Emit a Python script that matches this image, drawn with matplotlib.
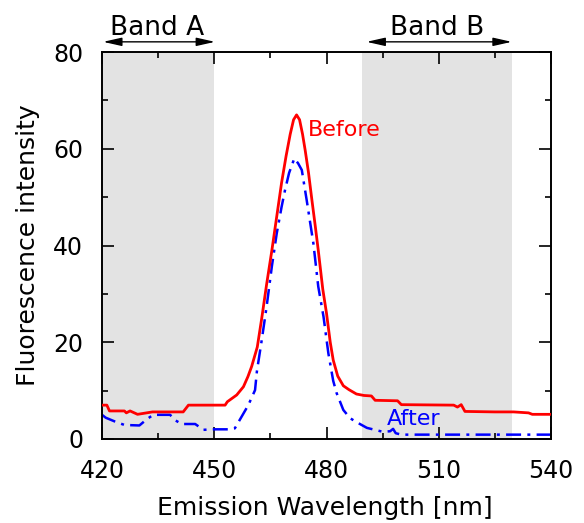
import matplotlib
matplotlib.use("Agg")
import matplotlib.pyplot as plt
from matplotlib.ticker import MultipleLocator

plt.rcParams['font.family'] = ['DejaVu Sans']

# Data
before_wl = [420, 421.3, 422, 426, 426.5, 427.5, 429.5, 433.5, 441.7, 443.1, 445, 450,
             452.9, 453.5, 456, 457.8, 459, 460, 461.5, 462.7, 464, 465.4, 466.7, 468,
             469.2, 470.3, 471.2, 472, 472.8, 473.6, 474.3, 475.2, 476.1, 477,
             477.8, 479, 480, 481, 481.8, 483, 484.5, 486, 488, 490, 492, 493,
             499, 500, 514, 515, 516, 517, 525, 530, 534, 535, 540]
before_val = [7.0, 7.0, 5.8, 5.8, 5.4, 5.8, 5.1, 5.6, 5.6, 7.0, 7.0, 7.0, 7.0,
              7.7, 9.1, 10.8, 12.9, 15.0, 19.0, 25.0, 32.0, 39.0, 46.0, 53.0,
              58.5, 63.0, 66.0, 67.0, 66.0, 63.0, 59.7, 55.0, 49.4, 44.0,
              39.0, 31.0, 26.0, 20.0, 16.3, 13.0, 11.0, 10.2, 9.3, 9.0, 8.9, 8.0,
              7.9, 7.1, 7.0, 6.6, 7.1, 5.7, 5.6, 5.6, 5.4, 5.1, 5.1]

after_wl = [420, 421, 423.5, 426, 430, 432, 433.7, 438.2, 439.5, 441.3, 444.9, 447.1,
            450, 454.2, 455.5, 457.3, 459.1, 460.9, 461.4, 462.7, 464,
            465.4, 466.7, 468, 468.9, 470, 471.4, 472.4, 473.4, 474.7, 476.5,
            477.8, 479.2, 480.5, 481.8, 482.7, 484.5, 486.3, 488, 490.8, 495,
            497, 497.8, 498.5, 500, 540]
after_val = [5.0, 4.4, 3.6, 2.9, 2.8, 4.1, 5.0, 5.0, 3.9, 3.1, 3.1, 1.9,
             2.0, 2.0, 2.2, 4.6, 7.0, 10.1, 14.0, 20.5, 27.4, 35.7,
             42.5, 48.0, 51.4, 55.0, 58.0, 57.0, 55.6, 49.4, 40.4, 31.5, 25.3,
             17.7, 12.0, 9.5, 6.0, 4.3, 3.5, 2.3, 1.5, 1.6, 2.1, 1.2, 0.9, 0.9]

band_a = (420, 450)
band_b = (489.5, 529.5)
arrow_a = (420.3, 450.2)
arrow_b = (490.7, 529.5)
x_ticks = [420, 450, 480, 510, 540]
y_ticks = [0, 20, 40, 60, 80]

fig = plt.figure(figsize=(5.84, 5.23), dpi=100)
ax = fig.add_axes([102/584, 1-439/523, 449/584, 387/523])

ax.axvspan(*band_a, color='#e3e3e3', lw=0, zorder=0)
ax.axvspan(*band_b, color='#e3e3e3', lw=0, zorder=0)

ax.plot(before_wl, before_val, color='#ff0000', lw=2.0, zorder=3)
ax.plot(after_wl, after_val, color='#0000ff', lw=1.8, ls=(0, (6, 2.5, 1.2, 2.5)), zorder=2)

ax.set_xlim(420, 540)
ax.set_ylim(0, 80)
ax.set_xticks(x_ticks)
ax.set_yticks(y_ticks)
ax.xaxis.set_minor_locator(MultipleLocator(15))
ax.yaxis.set_minor_locator(MultipleLocator(10))
ax.tick_params(which='both', direction='in', top=True, right=True, width=1.2, colors='black')
ax.tick_params(which='major', length=8.5)
ax.tick_params(which='minor', length=4.5)
ax.tick_params(axis='x', which='major', labelsize=17, pad=14.5)
ax.tick_params(axis='y', which='major', labelsize=17, pad=13.5)
for s in ax.spines.values():
    s.set_linewidth(1.4)

ax.set_xlabel('Emission Wavelength [nm]', fontsize=18, va='center')
ax.xaxis.set_label_coords(0.497, -0.178)
ax.set_ylabel('Fluorescence intensity', fontsize=18, va='center')
ax.yaxis.set_label_coords(-0.165, 0.501)

ax.text(475.0, 62.6, 'Before', color='#ff0000', fontsize=16, va='baseline', ha='left')
ax.text(496.1, 2.9, 'After', color='#0000ff', fontsize=16, va='baseline', ha='left')

for (x0, x1), lbl in [(arrow_a, 'Band A'), (arrow_b, 'Band B')]:
    ax.annotate('', xy=(x0, 82.1), xytext=(x1, 82.1), xycoords='data',
                arrowprops=dict(arrowstyle='<|-|>,head_length=0.8,head_width=0.18',
                                color='black', lw=1.0,
                                mutation_scale=14, shrinkA=0, shrinkB=0),
                annotation_clip=False)
ax.text(434.7, 83.6, 'Band A', fontsize=19, ha='center', va='baseline', clip_on=False)
ax.text(509.6, 83.6, 'Band B', fontsize=19, ha='center', va='baseline', clip_on=False)

fig.savefig('out.png', dpi=100)
